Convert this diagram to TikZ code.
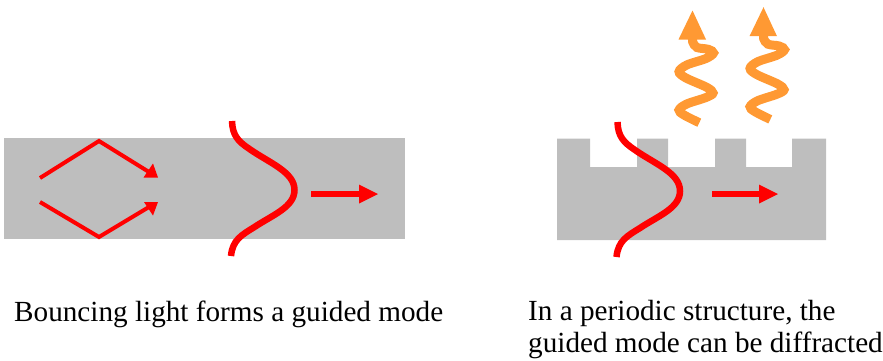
\documentclass[tikz,border=0pt]{standalone}
\usepackage{fontspec}
\setmainfont{Liberation Serif}
\definecolor{slabgrey}{HTML}{BEBEBE}
\definecolor{beam}{HTML}{FF0000}
\definecolor{glow}{HTML}{FF9933}
\tikzset{
  slab/.style={fill=slabgrey,draw=none},
  ray/.style={draw=beam,line width=4pt,line join=miter},
  profile/.style={draw=beam,line width=6.5pt},
  headfill/.style={fill=beam,draw=none},
  wave/.style={draw=glow,line width=9pt},
  caption/.style={inner sep=0pt,anchor=base west,font=\fontsize{29.2}{34}\selectfont,text=black}
}
% Mode profile opening to the left, apex at (#1,#2)
\newcommand{\modeprofile}[2]{%
  \begin{scope}[shift={(#1,#2)}]
    \draw[profile] (-62.5,-69) .. controls (-62,-55) and (-57,-49) .. (-45,-41)
      .. controls (-25,-27) and (0,-18) .. (0,0)
      .. controls (0,17) and (-22,25) .. (-40,37)
      .. controls (-53,45) and (-62,50) .. (-63.5,66);
  \end{scope}}
% Straight propagation arrow along y = #3, from #1 to #2
\newcommand{\flowarrow}[3]{%
  \draw[draw=beam,line width=6pt] (#1,#3) -- (#2-18,#3);
  \fill[headfill] (#2-19,#3+9.5) -- (#2,#3) -- (#2-19,#3-9.5) -- cycle;}
% Wavy orange arrow, shifted from its base position
\newcommand{\emission}[2]{%
  \begin{scope}[shift={(#1,#2)}]
    \draw[wave] plot[smooth,tension=0.55] coordinates {
      (699.3,122.7) (684,115) (679,110) (686.7,104) (706,97.5) (713,93)
      (706.7,87.3) (686,78) (679,71.7) (686.7,65) (706,58.5) (713.5,53)
      (708.3,49.3) (697,47.5) (692.7,42) (692.7,37)};
    \fill[glow] (678.5,39.5) -- (692.5,10.5) -- (706,39.5) -- cycle;
  \end{scope}}
\begin{document}
\begin{tikzpicture}[x=1pt,y=-1pt]
\useasboundingbox (0,0) rectangle (883,360);
% plain waveguide
\fill[slab] (4,138) rectangle (405,239);
\draw[ray] (40,178) -- (99,141) -- (149,172);
\draw[ray] (40,202) -- (99,237) -- (149,207);
\fill[headfill] (158,177.5) -- (143.5,177.5) -- (153,163.5) -- cycle;
\fill[headfill] (158,202) -- (144,202) -- (153,215.5) -- cycle;
\modeprofile{294.5}{190}
\flowarrow{311}{378}{194}
% corrugated waveguide
\fill[slab] (557,138.5) -- (590,138.5) -- (590,167) -- (637,167) -- (637,138.5) -- (668,138.5)
  -- (668,167) -- (715,167) -- (715,138.5) -- (746,138.5) -- (746,167) -- (792,167)
  -- (792,138.5) -- (826,138.5) -- (826,240) -- (557,240) -- cycle;
\modeprofile{680}{191}
\flowarrow{712}{778}{194}
\emission{0}{0}
\emission{71}{-3.3}
% captions
\node[caption] (leftcap) at (14,321) {Bouncing light forms a guided mode};
\node[caption] (rightcap) at (528,320) {In a periodic structure, the};
\node[caption] (rightcaptwo) at (528,352) {guided mode can be diffracted};
\end{tikzpicture}
\end{document}
